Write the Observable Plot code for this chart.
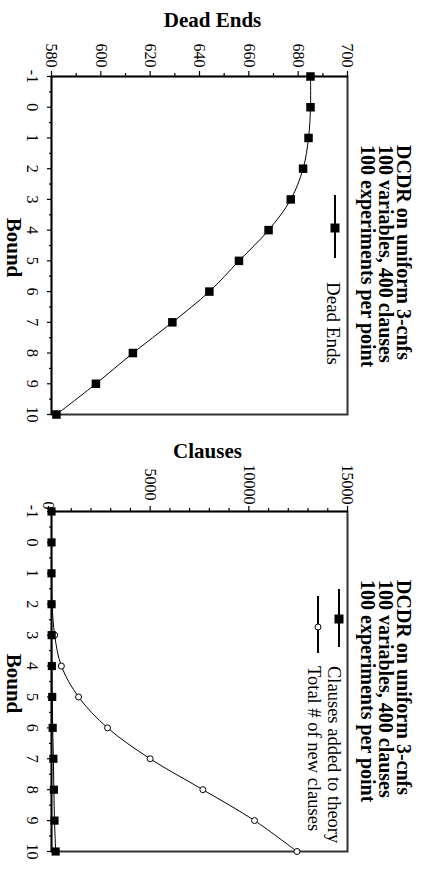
<!DOCTYPE html>
<html><head><meta charset="utf-8">
<script src="https://cdn.jsdelivr.net/npm/d3@7"></script>
<script src="https://cdn.jsdelivr.net/npm/@observablehq/plot@0.6"></script>
<style>
html,body{margin:0;padding:0;background:#fff;overflow:hidden;}
#page{position:absolute;left:0;top:0;width:872px;height:424px;transform-origin:0 0;transform:translate(424px,0) rotate(90deg);font-family:"Liberation Serif","Times New Roman",serif;}
#page > svg{position:absolute;top:0;}
</style></head><body><div id="page"></div>
<script>
// ---- data ----
const bounds = [-1, 0, 1, 2, 3, 4, 5, 6, 7, 8, 9, 10];
const deadEnds = [685, 685, 684.2, 682, 677, 668, 656, 644, 629, 613, 598, 582];
const clausesAdded = [0, 0, 0, 2, 8, 18, 35, 60, 95, 120, 150, 210];
const totalNewClauses = [0, 2, 8, 30, 160, 500, 1370, 2840, 5000, 7670, 10290, 12440];

const deadEndTicks = [580, 600, 620, 640, 660, 680, 700];
const deadEndMinorTicks = [590, 610, 630, 650, 670, 690];
const clauseTicks = [5000, 10000, 15000];
const clauseZeroTick = [0];
const clauseMinorTicks = [1000, 2000, 3000, 4000, 6000, 7000, 8000, 9000, 11000, 12000, 13000, 14000];
const boundMinorTicks = [-0.5, 0.5, 1.5, 2.5, 3.5, 4.5, 5.5, 6.5, 7.5, 8.5, 9.5];

const titleLines = ["DCDR on uniform 3-cnfs", "100 variables, 400 clauses", "100 experiments per point"];
const xLabel = "Bound";
const yLabel1 = "Dead Ends";
const yLabel2 = "Clauses";
const legend1 = ["Dead Ends"];
const legend2 = ["Clauses added to theory", "Total # of new clauses"];

const font = "Liberation Serif";
const page = document.getElementById("page");

const de = bounds.map((b, i) => ({bound: b, value: deadEnds[i]}));
const ca = bounds.map((b, i) => ({bound: b, value: clausesAdded[i]}));
const tn = bounds.map((b, i) => ({bound: b, value: totalNewClauses[i]}));

function baseAxes(yMajor, yMinor, yPad) {
  return [
    Plot.frame({stroke: "#333", strokeWidth: 2}),
    Plot.axisX({ticks: boundMinorTicks, tickSize: 3, tickFormat: () => "", label: null, strokeWidth: 1.2}),
    Plot.axisX({ticks: bounds, tickSize: 5, tickPadding: 8, fontSize: 16, label: null, strokeWidth: 1.2, tickFormat: d => String(d)}),
    Plot.axisY({ticks: yMinor, tickSize: 3, tickFormat: () => "", label: null, strokeWidth: 1.2}),
    Plot.axisY({ticks: yMajor, tickSize: 5, tickPadding: yPad, textAnchor: "middle", fontSize: 16, label: null, strokeWidth: 1.2, tickFormat: d => String(d)})
  ];
}

const p1 = Plot.plot({
  width: 436, height: 424, marginLeft: 76, marginRight: 22, marginTop: 76, marginBottom: 52,
  style: {fontFamily: font, background: "transparent", color: "black", overflow: "visible"},
  x: {domain: [-1, 10]}, y: {domain: [580, 700]},
  marks: [
    ...baseAxes(deadEndTicks, deadEndMinorTicks, 16),
    Plot.ruleX([-1], {stroke: "black", strokeWidth: 1.5}),
    Plot.ruleY([580], {stroke: "black", strokeWidth: 1.5}),
    Plot.line(de, {x: "bound", y: "value", stroke: "black", strokeWidth: 1, curve: "catmull-rom"}),
    Plot.dot(de, {x: "bound", y: "value", symbol: "square", r: 4.8, fill: "black", stroke: "none"})
  ]
});
p1.style.left = "0px";
page.appendChild(p1);

const p2 = Plot.plot({
  width: 436, height: 424, marginLeft: 75, marginRight: 21, marginTop: 76, marginBottom: 52,
  style: {fontFamily: font, background: "transparent", color: "black", overflow: "visible"},
  x: {domain: [-1, 10]}, y: {domain: [0, 15000]},
  marks: [
    ...baseAxes(clauseTicks, clauseMinorTicks, 22),
    Plot.axisY({ticks: clauseZeroTick, tickSize: 5, tickPadding: 1, textAnchor: "middle", fontSize: 16, label: null, strokeWidth: 1.2, dy: 3, tickFormat: d => String(d)}),
    Plot.ruleX([-1], {stroke: "black", strokeWidth: 1.5}),
    Plot.ruleY([0], {stroke: "black", strokeWidth: 1.5}),
    Plot.line(tn, {x: "bound", y: "value", stroke: "black", strokeWidth: 1, curve: "catmull-rom"}),
    Plot.dot(tn, {x: "bound", y: "value", symbol: "circle", r: 3, fill: "white", stroke: "black", strokeWidth: 1}),
    Plot.line(ca, {x: "bound", y: "value", stroke: "black", strokeWidth: 1}),
    Plot.dot(ca, {x: "bound", y: "value", symbol: "square", r: 4.6, fill: "black", stroke: "none"})
  ]
});
p2.style.left = "436px";
page.appendChild(p2);

// ---- overlay: titles, axis labels, legends ----
const ov = d3.select(page).append("svg")
  .attr("width", 872).attr("height", 424)
  .style("left", "0px").style("font-family", font);

function titleBlock(x0) {
  const bl = [26.6, 45, 63];
  titleLines.forEach((t, i) => {
    ov.append("text").attr("x", x0).attr("y", bl[i])
      .attr("font-size", 20).attr("font-weight", "bold").text(t);
  });
}
titleBlock(145);
titleBlock(580);

// y-axis titles (vertical in unrotated frame)
ov.append("text").attr("transform", "translate(27,211.5) rotate(-90)")
  .attr("text-anchor", "middle").attr("font-size", 21).attr("font-weight", "bold").text(yLabel1);
ov.append("text").attr("transform", "translate(458,216.5) rotate(-90)")
  .attr("text-anchor", "middle").attr("font-size", 21).attr("font-weight", "bold").text(yLabel2);

// x-axis titles
[247.5, 683.5].forEach(cx => {
  ov.append("text").attr("x", cx).attr("y", 417).attr("text-anchor", "middle")
    .attr("font-size", 21).attr("font-weight", "bold").text(xLabel);
});

// legend chart 1
ov.append("line").attr("x1", 195).attr("x2", 258).attr("y1", 89).attr("y2", 89)
  .attr("stroke", "black").attr("stroke-width", 2);
ov.append("rect").attr("x", 228 - 4.5).attr("y", 89 - 4.5).attr("width", 9).attr("height", 9).attr("fill", "black");
ov.append("text").attr("x", 282).attr("y", 97.5).attr("font-size", 19).text(legend1[0]);

// legend chart 2
ov.append("line").attr("x1", 589).attr("x2", 647).attr("y1", 85).attr("y2", 85)
  .attr("stroke", "black").attr("stroke-width", 2);
ov.append("rect").attr("x", 619 - 4.5).attr("y", 85 - 4.5).attr("width", 9).attr("height", 9).attr("fill", "black");
ov.append("text").attr("x", 666).attr("y", 96.2).attr("font-size", 18.5).text(legend2[0]);

ov.append("line").attr("x1", 596).attr("x2", 653).attr("y1", 106).attr("y2", 106)
  .attr("stroke", "black").attr("stroke-width", 2);
ov.append("circle").attr("cx", 627).attr("cy", 106).attr("r", 3)
  .attr("fill", "white").attr("stroke", "black").attr("stroke-width", 1);
ov.append("text").attr("x", 666).attr("y", 116.2).attr("font-size", 18.5).text(legend2[1]);
</script>
</body></html>
